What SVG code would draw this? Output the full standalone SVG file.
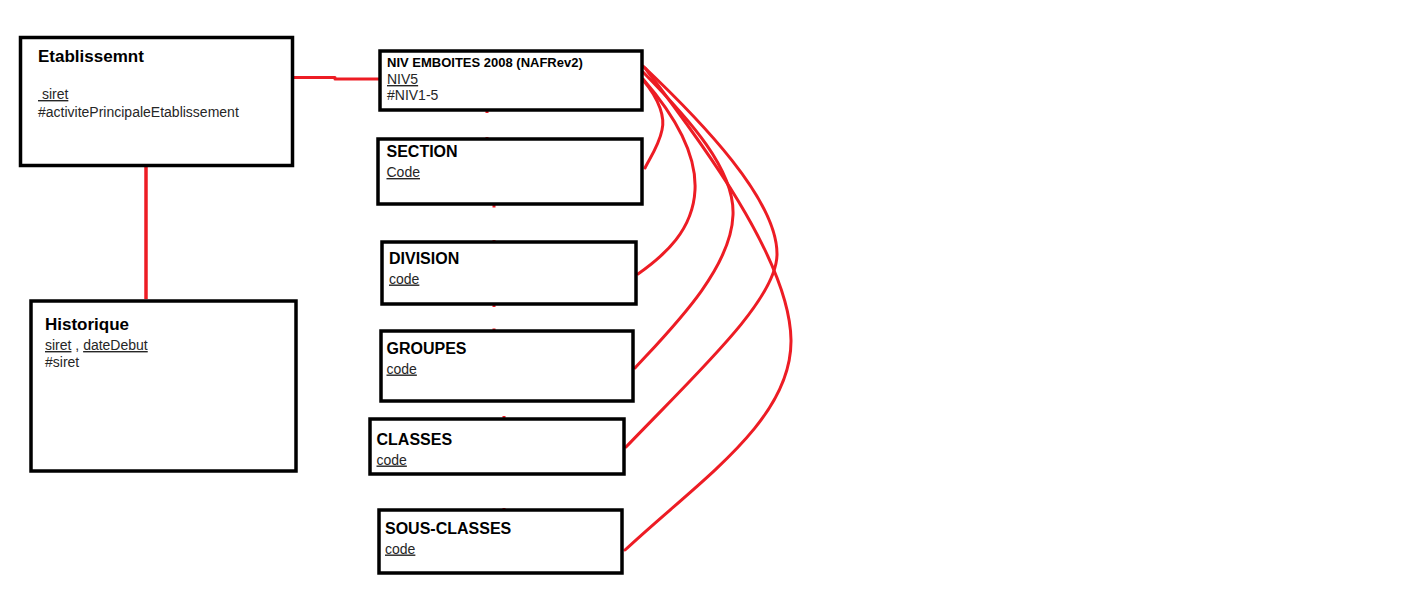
<svg xmlns="http://www.w3.org/2000/svg" width="1421" height="614" viewBox="0 0 1421 614">
<style>
.box{fill:#fff;stroke:#000;stroke-width:3.5}
.t{font-family:"Liberation Sans",Arial,sans-serif;font-weight:bold;font-size:16px;fill:#000}
.b{font-family:"Liberation Sans",Arial,sans-serif;font-size:14px;fill:#262626;white-space:pre}
.u{text-decoration:underline}
.c{fill:none;stroke:#ed1c24;stroke-width:3;stroke-linecap:round}
.tick{fill:none;stroke:#ed1c24;stroke-width:3}
</style>
<rect width="1421" height="614" fill="#fff"/>
<g id="connectors">
<path class="c" d="M293,77.5 H335 M335,79 H379"/>
<path class="c" d="M146,167 V299" style="stroke-width:3.5;stroke-linecap:butt"/>
<path class="c" d="M643,80 C660,100 665,118 662,130 C659,145 650,158 645,168"/>
<path class="c" d="M643,79 C670,110 697,150 695,190 C693,230 665,255 638,274"/>
<path class="c" d="M643,72 C690,120 735,170 733,215 C731,270 670,330 635,368"/>
<path class="c" d="M643,66 C700,120 778,200 777,255 C776,300 700,370 626,447"/>
<path class="c" d="M645,68 C700,140 790,260 791,340 C792,420 700,480 625,550"/>
<path class="tick" d="M487,110 V113 M487,137 V141 M494,205 V207.5 M494,240 V244 M494,304 V307 M494,328.5 V332 M504,416 V420 M504,508 V512"/>
</g>
<g id="etablissement">
<rect class="box" x="20.5" y="37.5" width="272" height="128"/>
<text class="t" x="38" y="62" style="font-size:17px">Etablissemnt</text>
<text class="b u" x="38" y="99"> siret</text>
<text class="b" x="38" y="117">#activitePrincipaleEtablissement</text>
</g>
<g id="historique">
<rect class="box" x="31" y="301" width="265" height="170"/>
<text class="t" x="45" y="330" style="font-size:17px">Historique</text>
<text class="b" x="45" y="350"><tspan class="u">siret</tspan> , <tspan class="u">dateDebut</tspan></text>
<text class="b" x="45" y="367">#siret</text>
</g>
<g id="niv-emboites">
<rect class="box" x="380" y="51" width="262" height="59"/>
<text class="t" x="387" y="67" style="font-size:13px">NIV EMBOITES 2008 (NAFRev2)</text>
<text class="b u" x="387" y="84">NIV5</text>
<text class="b" x="387" y="99.5">#NIV1-5</text>
</g>
<g id="section">
<rect class="box" x="378" y="139" width="264" height="65"/>
<text class="t" x="386.5" y="157">SECTION</text>
<text class="b u" x="386.5" y="177">Code</text>
</g>
<g id="division">
<rect class="box" x="382" y="242" width="254" height="62"/>
<text class="t" x="389" y="263.5">DIVISION</text>
<text class="b u" x="389" y="283.5">code</text>
</g>
<g id="groupes">
<rect class="box" x="381" y="331" width="252" height="70"/>
<text class="t" x="386.5" y="353.5">GROUPES</text>
<text class="b u" x="386.5" y="373.5">code</text>
</g>
<g id="classes">
<rect class="box" x="370" y="419" width="254" height="55"/>
<text class="t" x="376.5" y="444.5">CLASSES</text>
<text class="b u" x="376.5" y="464.5">code</text>
</g>
<g id="sous-classes">
<rect class="box" x="379" y="510" width="243" height="63"/>
<text class="t" x="385" y="533.5">SOUS-CLASSES</text>
<text class="b u" x="385" y="553.5">code</text>
</g>
</svg>
